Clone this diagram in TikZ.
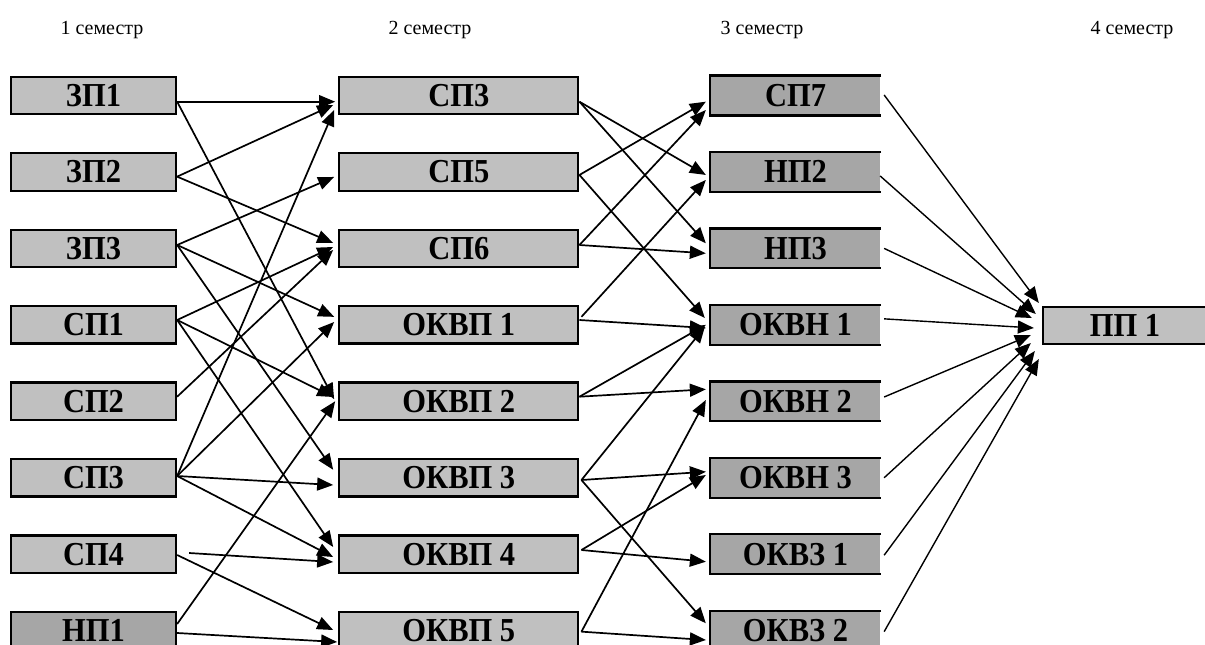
\documentclass[tikz,border=0pt]{standalone}
\usepackage{fontspec}
\setmainfont{Liberation Serif}
\newfontfamily\labelfont[FakeStretch=0.91]{Liberation Serif}
\usetikzlibrary{arrows.meta,calc}
\definecolor{boxlight}{HTML}{C0C0C0}
\definecolor{boxdark}{HTML}{A6A6A6}
\begin{document}
\begin{tikzpicture}[x=1pt,y=-1pt,
  box/.style={rectangle, inner sep=0pt, minimum height=37.5pt,
    text height=22pt, text depth=0pt,
    font=\labelfont\fontsize{33.5}{34}\selectfont\bfseries, line width=2.3pt},
  lightbox/.style={box, draw, fill=boxlight},
  darkbox/.style={box, draw, fill=boxdark},
  openbox/.style={box, fill=boxdark},
  colA/.style={minimum width=165pt},
  colB/.style={minimum width=239pt},
  colC/.style={minimum width=169pt},
  colD/.style={minimum width=164pt},
  conn/.style={line width=1.7pt, -{Triangle[length=16pt,width=13pt]}},
  connthin/.style={line width=1.4pt, -{Triangle[length=16pt,width=13pt]}},
  head/.style={font=\fontsize{20}{22}\selectfont, inner sep=0pt}
]
\useasboundingbox (0,0) rectangle (1205,645);
\clip (0,0) rectangle (1205,645);

% semester headings
\node[head] (h1) at (102,30) {1 семестр};
\node[head] (h2) at (430,30) {2 семестр};
\node[head] (h3) at (762,30) {3 семестр};
\node[head] (h4) at (1132,30) {4 семестр};

% semester 1
\node[lightbox, colA] (a1) at (93.5,95.5)   {ЗП1};
\node[lightbox, colA] (a2) at (93.5,171.95) {ЗП2};
\node[lightbox, colA] (a3) at (93.5,248.4)  {ЗП3};
\node[lightbox, colA] (a4) at (93.5,324.85) {СП1};
\node[lightbox, colA] (a5) at (93.5,401.3)  {СП2};
\node[lightbox, colA] (a6) at (93.5,477.75) {СП3};
\node[lightbox, colA] (a7) at (93.5,554.2)  {СП4};
\node[darkbox,  colA] (a8) at (93.5,630.65) {НП1};

% semester 2
\node[lightbox, colB] (b1) at (458.8,95.5)   {СП3};
\node[lightbox, colB] (b2) at (458.8,171.95) {СП5};
\node[lightbox, colB] (b3) at (458.8,248.4)  {СП6};
\node[lightbox, colB] (b4) at (458.8,324.85) {ОКВП 1};
\node[lightbox, colB] (b5) at (458.8,401.3)  {ОКВП 2};
\node[lightbox, colB] (b6) at (458.8,477.75) {ОКВП 3};
\node[lightbox, colB] (b7) at (458.8,554.2)  {ОКВП 4};
\node[lightbox, colB] (b8) at (458.8,630.65) {ОКВП 5};

% semester 3 (boxes open on the right)
\node[openbox, colC] (c1) at (795.5,95.5)   {СП7};
\node[openbox, colC] (c2) at (795.5,171.95) {НП2};
\node[openbox, colC] (c3) at (795.5,248.4)  {НП3};
\node[openbox, colC] (c4) at (795.5,324.85) {ОКВН 1};
\node[openbox, colC] (c5) at (795.5,401.3)  {ОКВН 2};
\node[openbox, colC] (c6) at (795.5,477.75) {ОКВН 3};
\node[openbox, colC] (c7) at (795.5,554.2)  {ОКВЗ 1};
\node[openbox, colC] (c8) at (795.5,630.65) {ОКВЗ 2};
\foreach \n in {c1,c2,c3,c4,c5,c6,c7,c8}
  \draw[line width=2.3pt] (\n.north east) -- (\n.north west) -- (\n.south west) -- (\n.south east);

% semester 4
\node[lightbox, colD] (d) at (1125,325.5) {ПП 1};

% semester 1 -> semester 2
\draw[conn] ($(a1.east)+(0,6.2)$)  -- ($(b1.west)+(-3,6.2)$);
\draw[conn] ($(a1.east)+(0,6.2)$)  -- ($(b5.west)+(-4,-2)$);
\draw[conn] ($(a2.east)+(0,4.7)$)  -- ($(b1.west)+(-5,9.5)$);
\draw[conn] ($(a2.east)+(0,4.7)$)  -- ($(b3.west)+(-5,-5.4)$);
\draw[conn] ($(a3.east)+(0,-3.4)$) -- ($(b2.west)+(-4,5)$);
\draw[conn] ($(a3.east)+(0,-3.4)$) -- ($(b4.west)+(-4,-8)$);
\draw[conn] ($(a3.east)+(0,-3.4)$) -- ($(b6.west)+(-5,-8)$);
\draw[conn] ($(a4.east)+(0,-4.85)$) -- ($(b3.west)+(-5,-1.4)$);
\draw[conn] ($(a4.east)+(0,-4.85)$) -- ($(b5.west)+(-5,-4.3)$);
\draw[conn] ($(a4.east)+(0,-4.85)$) -- ($(b7.west)+(-5,-7.2)$);
\draw[conn] ($(a5.east)+(0,-4.6)$) -- ($(b3.west)+(-5,1.6)$);
\draw[conn] ($(a6.east)+(0,-1.75)$) -- ($(b1.west)+(-4,14.5)$);
\draw[conn] ($(a6.east)+(0,-1.75)$) -- ($(b4.west)+(-4,-2.85)$);
\draw[conn] ($(a6.east)+(0,-1.75)$) -- ($(b6.west)+(-5,7.25)$);
\draw[conn] ($(a6.east)+(0,-1.75)$) -- ($(b7.west)+(-5,2.8)$);
\draw[conn] ($(a7.east)+(12,-1.2)$) -- ($(b7.west)+(-5,7.8)$);
\draw[conn] ($(a7.east)+(0,0.8)$)  -- ($(b8.west)+(-5,-0.65)$);
\draw[conn] ($(a8.east)+(0,-6.65)$) -- ($(b5.west)+(-3,0)$);
\draw[conn] ($(a8.east)+(0,2.35)$) -- ($(b8.west)+(-1,11.35)$);

% semester 2 -> semester 3
\draw[conn] ($(b1.east)+(0,6.2)$)  -- ($(c2.west)+(-4,3)$);
\draw[conn] ($(b1.east)+(0,6.2)$)  -- ($(c3.west)+(-4,-5.1)$);
\draw[conn] ($(b2.east)+(0,3)$)    -- ($(c1.west)+(-4,6.2)$);
\draw[conn] ($(b2.east)+(0,3)$)    -- ($(c4.west)+(-5,-6.85)$);
\draw[conn] ($(b3.east)+(0,-3.4)$) -- ($(c1.west)+(-4,14.5)$);
\draw[conn] ($(b3.east)+(0,-3.4)$) -- ($(c3.west)+(-4,4.9)$);
\draw[conn] ($(b4.east)+(2,-8)$)   -- ($(c2.west)+(-4,8)$);
\draw[conn] ($(b4.east)+(0,-4.85)$) -- ($(c4.west)+(-4,3.15)$);
\draw[conn] ($(b5.east)+(0,-4.6)$) -- ($(c4.west)+(-4,0)$);
\draw[conn] ($(b5.east)+(0,-4.6)$) -- ($(c5.west)+(-4,-12)$);
\draw[conn] ($(b6.east)+(2,2.25)$) -- ($(c4.west)+(-5,2)$);
\draw[conn] ($(b6.east)+(2,2.25)$) -- ($(c6.west)+(-4,-6)$);
\draw[conn] ($(b6.east)+(2,2.25)$) -- ($(c8.west)+(-4,-7.35)$);
\draw[conn] ($(b7.east)+(2,-4.2)$) -- ($(c6.west)+(-4,-2.75)$);
\draw[conn] ($(b7.east)+(2,-4.2)$) -- ($(c7.west)+(-4,7.5)$);
\draw[conn] ($(b8.east)+(2,1)$)    -- ($(c5.west)+(-4,-1.3)$);
\draw[conn] ($(b8.east)+(2,1)$)    -- ($(c8.west)+(-4,9.35)$);

% semester 3 -> semester 4
\draw[connthin] ($(c1.east)+(3,-0.5)$) -- ($(d.west)+(-3,-22.5)$);
\draw[connthin] ($(c2.east)+(-1,4)$)   -- ($(d.west)+(-6,-11.5)$);
\draw[connthin] ($(c3.east)+(3,0)$)    -- ($(d.west)+(-10,-7.5)$);
\draw[connthin] ($(c4.east)+(3,-6)$)   -- ($(d.west)+(-8,2.5)$);
\draw[connthin] ($(c5.east)+(3,-4.3)$) -- ($(d.west)+(-11,9.5)$);
\draw[connthin] ($(c6.east)+(3,0)$)    -- ($(d.west)+(-11,17.5)$);
\draw[connthin] ($(c7.east)+(3,1)$)    -- ($(d.west)+(-7,25.5)$);
\draw[connthin] ($(c8.east)+(3,1)$)    -- ($(d.west)+(-3,33.5)$);
\end{tikzpicture}
\end{document}
